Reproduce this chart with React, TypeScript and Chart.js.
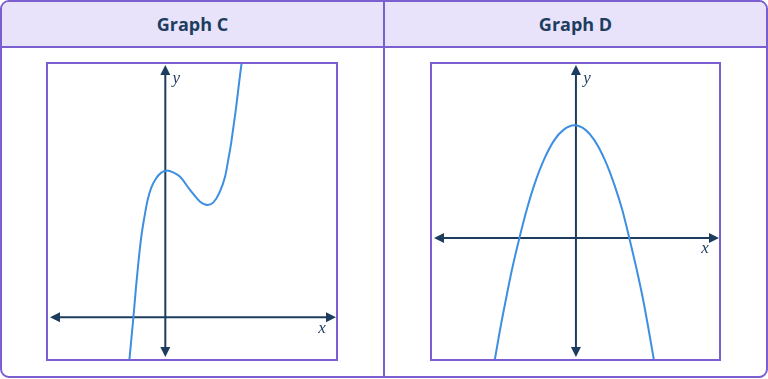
import React, { useEffect, useRef } from "react";
import Chart from "chart.js/auto";

// ---- data ----
const TITLES = ["Graph C", "Graph D"];
const AXIS_LABELS = ["x", "y"];

// Graph C: cubic-like curve
const C_X = [-1.24, -1.1, -1.01, -0.92, -0.83, -0.72, -0.61, -0.49, -0.32, -0.15, 0.04, 0.27, 0.51, 0.85, 1.2, 1.45, 1.65, 1.86, 2.06, 2.17, 2.27, 2.35, 2.43, 2.5, 2.57, 2.63];
const C_Y = [-1.44, 0, 1.02, 1.93, 2.7, 3.38, 3.95, 4.35, 4.67, 4.86, 4.94, 4.88, 4.73, 4.29, 3.89, 3.78, 3.86, 4.18, 4.73, 5.3, 5.86, 6.42, 6.98, 7.54, 8.1, 8.56];
const C_X_RANGE = [-4.08, 5.92];
const C_Y_RANGE = [-1.44, 8.56];

// Graph D: downward parabola
const D_X = [-2.8, -2.62, -2.42, -2.21, -1.95, -1.7, -1.44, -1.11, -0.74, -0.44, -0.05, 0.34, 0.63, 1.0, 1.33, 1.6, 1.84, 2.1, 2.32, 2.51, 2.69];
const D_Y = [-4.11, -3.1, -2.09, -1.08, 0, 0.94, 1.78, 2.62, 3.3, 3.63, 3.79, 3.63, 3.3, 2.62, 1.78, 0.94, 0, -1.08, -2.09, -3.1, -4.11];
const D_X_RANGE = [-5.0, 4.97];
const D_Y_RANGE = [-4.11, 5.89];

// ---- styles ----
const NAVY = "#1d3d5e";
const PURPLE = "#7b5ed0";
const BLUE = "#3d8fe2";
const HEADER_BG = "#e8e2fb";

const mathAxes = {
  id: "mathAxes",
  beforeDatasetsDraw(chart: any) {
    const { ctx, chartArea: a, scales } = chart;
    const ox = scales.x.getPixelForValue(0);
    const oy = scales.y.getPixelForValue(0);
    const L = 10;
    const W = 5;
    const x1 = a.left + 3;
    const x2 = a.right - 1;
    const y1 = a.top + 2;
    const y2 = a.bottom - 3;
    ctx.save();
    ctx.strokeStyle = NAVY;
    ctx.fillStyle = NAVY;
    ctx.lineWidth = 2;
    ctx.beginPath();
    ctx.moveTo(x1 + L - 1, oy);
    ctx.lineTo(x2 - L + 1, oy);
    ctx.moveTo(ox, y1 + L - 1);
    ctx.lineTo(ox, y2 - L + 1);
    ctx.stroke();
    const tri = (tx: number, ty: number, dx: number, dy: number) => {
      const bx = tx - dx * L;
      const by = ty - dy * L;
      ctx.beginPath();
      ctx.moveTo(tx, ty);
      ctx.lineTo(bx - dy * W, by + dx * W);
      ctx.lineTo(bx + dy * W, by - dx * W);
      ctx.closePath();
      ctx.fill();
    };
    tri(x1, oy, -1, 0);
    tri(x2, oy, 1, 0);
    tri(ox, y1, 0, -1);
    tri(ox, y2, 0, 1);
    ctx.font = "italic 17px 'Liberation Serif', serif";
    ctx.textAlign = "center";
    ctx.textBaseline = "middle";
    ctx.fillText(AXIS_LABELS[0], a.right - 15, oy + 11);
    ctx.fillText(AXIS_LABELS[1], ox + 11, a.top + 16);
    ctx.restore();
  },
  afterDatasetsDraw(chart: any) {
    const { ctx, chartArea: a } = chart;
    ctx.save();
    ctx.strokeStyle = PURPLE;
    ctx.lineWidth = 2;
    ctx.strokeRect(a.left, a.top, a.right - a.left, a.bottom - a.top);
    ctx.restore();
  },
};

type PanelProps = {
  xs: number[];
  ys: number[];
  xr: number[];
  yr: number[];
  left: number;
  width: number;
  pad: { left: number; right: number; top: number; bottom: number };
};

function Panel({ xs, ys, xr, yr, left, width, pad }: PanelProps) {
  const ref = useRef<HTMLCanvasElement | null>(null);
  useEffect(() => {
    if (!ref.current) return;
    const chart = new Chart(ref.current, {
      type: "line",
      data: {
        datasets: [
          {
            data: xs.map((x, i) => ({ x, y: ys[i] })),
            borderColor: BLUE,
            borderWidth: 2,
            pointRadius: 0,
            cubicInterpolationMode: "monotone",
            fill: false,
          },
        ],
      },
      options: {
        animation: false,
        responsive: false,
        events: [],
        layout: { padding: pad },
        plugins: { legend: { display: false }, tooltip: { enabled: false } },
        scales: {
          x: { type: "linear", min: xr[0], max: xr[1], display: false },
          y: { type: "linear", min: yr[0], max: yr[1], display: false },
        },
      },
      plugins: [mathAxes],
    } as any);
    return () => chart.destroy();
  }, []);
  return (
    <canvas
      ref={ref}
      width={width}
      height={330}
      style={{ position: "absolute", left, top: 48, width, height: 330, display: "block" }}
    />
  );
}

export default function App() {
  const headerText: React.CSSProperties = {
    position: "absolute",
    top: 0,
    height: 44,
    lineHeight: "44px",
    textAlign: "center",
    fontFamily: "'Open Sans', sans-serif",
    fontWeight: 700,
    fontSize: 18,
    color: NAVY,
  };
  return (
    <div style={{ position: "fixed", left: 0, top: 0, width: 768, height: 379, background: "#fff" }}>
      <div
        style={{
          position: "absolute",
          left: 0,
          top: 0,
          width: 768,
          height: 378,
          border: `2px solid ${PURPLE}`,
          borderRadius: 9,
          boxSizing: "border-box",
          overflow: "hidden",
        }}
      >
        <div
          style={{
            position: "absolute",
            left: 0,
            top: 0,
            right: 0,
            height: 44,
            background: HEADER_BG,
            borderBottom: `2px solid ${PURPLE}`,
          }}
        />
        <div style={{ position: "absolute", left: 381, top: 0, width: 2, height: 378, background: PURPLE }} />
        <div style={{ ...headerText, left: 0, width: 381 }}>{TITLES[0]}</div>
        <div style={{ ...headerText, left: 383, width: 381 }}>{TITLES[1]}</div>
      </div>
      <Panel xs={C_X} ys={C_Y} xr={C_X_RANGE} yr={C_Y_RANGE} left={0} width={384} pad={{ left: 47, right: 47, top: 15, bottom: 18 }} />
      <Panel xs={D_X} ys={D_Y} xr={D_X_RANGE} yr={D_Y_RANGE} left={385} width={383} pad={{ left: 46, right: 48, top: 15, bottom: 18 }} />
    </div>
  );
}
